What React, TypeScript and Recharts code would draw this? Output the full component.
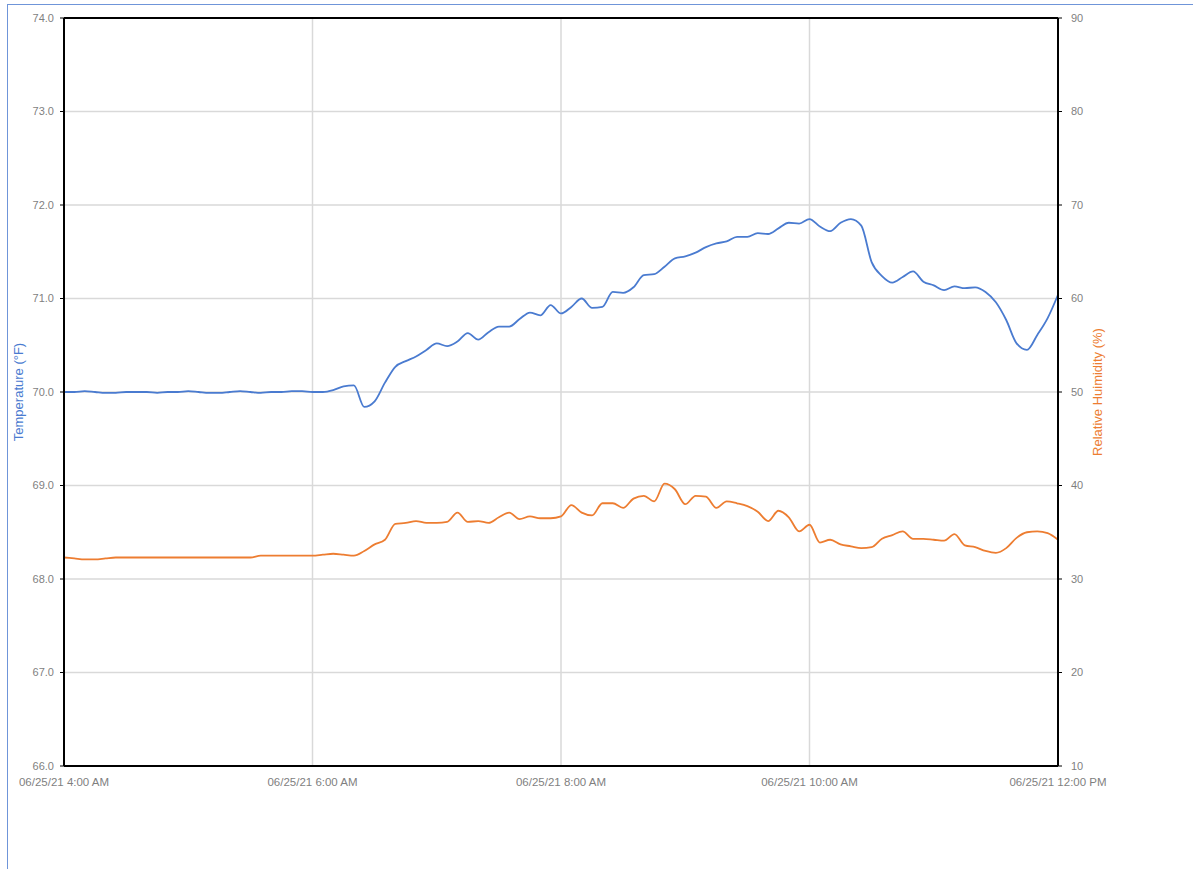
import React from 'react';
import {
  CartesianGrid,
  Line,
  LineChart,
  ReferenceLine,
  XAxis,
  YAxis,
} from 'recharts';

// minutes after 06/25/21 4:00 AM
const MINUTES = [
  0, 5, 10, 15, 20, 25, 30, 35, 40, 45, 50, 55, 60, 65, 70, 75, 80, 85, 90, 95,
  100, 105, 110, 115, 120, 125, 130, 135, 140, 145, 150, 155, 160, 165, 170, 175,
  180, 185, 190, 195, 200, 205, 210, 215, 220, 225, 230, 235, 240, 245, 250, 255,
  260, 265, 270, 275, 280, 285, 290, 295, 300, 305, 310, 315, 320, 325, 330, 335,
  340, 345, 350, 355, 360, 365, 370, 375, 380, 385, 390, 395, 400, 405, 410, 415,
  420, 425, 430, 435, 440, 445, 450, 455, 460, 465, 470, 475, 480,
];

const TEMP_F = [
  70.0, 70.0, 70.01, 70.0, 69.99, 69.99, 70.0, 70.0, 70.0, 69.99, 70.0, 70.0,
  70.01, 70.0, 69.99, 69.99, 70.0, 70.01, 70.0, 69.99, 70.0, 70.0, 70.01, 70.01,
  70.0, 70.0, 70.02, 70.06, 70.07, 69.84, 69.9, 70.1, 70.27, 70.33, 70.38, 70.45,
  70.52, 70.49, 70.54, 70.63, 70.56, 70.64, 70.7, 70.7, 70.78, 70.85, 70.82,
  70.93, 70.84, 70.91, 71.0, 70.9, 70.91, 71.07, 71.06, 71.12, 71.25, 71.26,
  71.34, 71.43, 71.45, 71.49, 71.55, 71.59, 71.61, 71.66, 71.66, 71.7, 71.69,
  71.75, 71.81, 71.8, 71.85, 71.77, 71.72, 71.81, 71.85, 71.78, 71.39, 71.24,
  71.17, 71.23, 71.29, 71.18, 71.14, 71.09, 71.13, 71.11, 71.12, 71.07, 70.96,
  70.77, 70.52, 70.45, 70.61, 70.79, 71.04,
];

const RH_PCT = [
  32.3, 32.2, 32.1, 32.1, 32.2, 32.3, 32.3, 32.3, 32.3, 32.3, 32.3, 32.3, 32.3,
  32.3, 32.3, 32.3, 32.3, 32.3, 32.3, 32.5, 32.5, 32.5, 32.5, 32.5, 32.5, 32.6,
  32.7, 32.6, 32.5, 33.0, 33.7, 34.2, 35.9, 36.0, 36.2, 36.0, 36.0, 36.1, 37.1,
  36.1, 36.2, 36.0, 36.6, 37.1, 36.4, 36.7, 36.5, 36.5, 36.7, 37.9, 37.1, 36.8,
  38.1, 38.1, 37.6, 38.6, 38.9, 38.3, 40.2, 39.6, 38.0, 38.9, 38.8, 37.6, 38.3,
  38.1, 37.8, 37.2, 36.2, 37.3, 36.6, 35.1, 35.8, 33.9, 34.2, 33.7, 33.5, 33.3,
  33.4, 34.3, 34.7, 35.1, 34.3, 34.3, 34.2, 34.1, 34.8, 33.6, 33.4, 33.0, 32.8,
  33.3, 34.4, 35.0, 35.1, 34.9, 34.2,
];

const X_TICKS = [0, 120, 240, 360, 480];
const X_TICK_LABELS = [
  '06/25/21 4:00 AM',
  '06/25/21 6:00 AM',
  '06/25/21 8:00 AM',
  '06/25/21 10:00 AM',
  '06/25/21 12:00 PM',
];
const TEMP_TICKS = [66, 67, 68, 69, 70, 71, 72, 73, 74];
const RH_TICKS = [10, 20, 30, 40, 50, 60, 70, 80, 90];

const data = MINUTES.map((m, i) => ({ m, temp: TEMP_F[i], rh: RH_PCT[i] }));

const FONT = '"Liberation Sans", Arial, sans-serif';
const TICK_GREY = '#7f7f7f';
const BLUE = '#4a7bd0';
const ORANGE = '#ed7d31';

function AxisTitle({ viewBox, text, color, x }: any) {
  const cy = viewBox.y + viewBox.height / 2;
  return (
    <text
      x={x}
      y={cy}
      transform={`rotate(-90 ${x} ${cy})`}
      textAnchor="middle"
      dominantBaseline="central"
      fill={color}
      fontSize={13}
      fontFamily={FONT}
    >
      {text}
    </text>
  );
}

export default function App() {
  return (
    <div style={{ position: 'absolute', left: 0, top: 0, width: 1193, height: 869, overflow: 'hidden', background: '#fff' }}>
      <div
        style={{
          position: 'absolute',
          left: 7,
          top: 4,
          right: 0,
          bottom: 0,
          borderLeft: '1.5px solid #6f95d9',
          borderTop: '1.5px solid #6f95d9',
        }}
      />
      <div style={{ position: 'absolute', left: 0, top: 0 }}>
        <LineChart
          width={1193}
          height={869}
          data={data}
          margin={{ top: 18, right: 85, bottom: 73, left: 0 }}
        >
          <CartesianGrid yAxisId="left" stroke="#d9d9d9" strokeWidth={1.5} />
          <XAxis
            dataKey="m"
            type="number"
            domain={[0, 480]}
            ticks={X_TICKS}
            tickFormatter={(v: number) => X_TICK_LABELS[X_TICKS.indexOf(v)]}
            height={30}
            tickLine={false}
            tickSize={0}
            tickMargin={12}
            axisLine={{ stroke: '#000', strokeWidth: 2 }}
            tick={{ fill: TICK_GREY, fontSize: 11.5, fontFamily: FONT }}
          />
          <YAxis
            yAxisId="left"
            domain={[66, 74]}
            ticks={TEMP_TICKS}
            tickFormatter={(v: number) => v.toFixed(1)}
            width={64}
            tickSize={4}
            tickMargin={6}
            tickLine={{ stroke: '#000' }}
            axisLine={{ stroke: '#000', strokeWidth: 2 }}
            tick={{ fill: TICK_GREY, fontSize: 11, fontFamily: FONT }}
            label={{
              content: (p: any) => (
                <AxisTitle viewBox={p.viewBox} text="Temperature (°F)" color={BLUE} x={18} />
              ),
            }}
          />
          <YAxis
            yAxisId="right"
            orientation="right"
            domain={[10, 90]}
            ticks={RH_TICKS}
            width={50}
            tickSize={4}
            tickMargin={9}
            tickLine={{ stroke: '#000' }}
            axisLine={{ stroke: '#000', strokeWidth: 2 }}
            tick={{ fill: TICK_GREY, fontSize: 11, fontFamily: FONT, textAnchor: 'start' }}
            label={{
              content: (p: any) => (
                <AxisTitle viewBox={p.viewBox} text="Relative Huimidity (%)" color={ORANGE} x={1097} />
              ),
            }}
          />
          <ReferenceLine yAxisId="left" y={74} stroke="#000" strokeWidth={2} />
          <Line
            yAxisId="left"
            type="monotone"
            dataKey="temp"
            stroke={BLUE}
            strokeWidth={1.8}
            dot={false}
            activeDot={false}
            isAnimationActive={false}
          />
          <Line
            yAxisId="right"
            type="monotone"
            dataKey="rh"
            stroke={ORANGE}
            strokeWidth={1.8}
            dot={false}
            activeDot={false}
            isAnimationActive={false}
          />
        </LineChart>
      </div>
    </div>
  );
}
